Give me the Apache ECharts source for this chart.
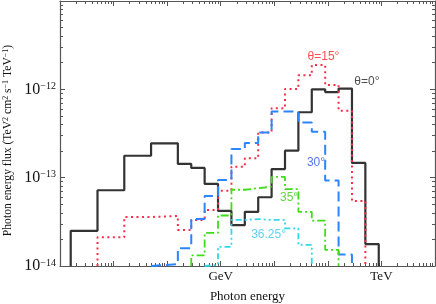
<!DOCTYPE html>
<html><head><meta charset="utf-8">
<script src="https://cdn.jsdelivr.net/npm/echarts@6/dist/echarts.min.js"></script>
<style>html,body{margin:0;padding:0;background:#fff}#c{width:436px;height:304px}</style>
</head><body><div id="c"></div>
<script>
// Bin edges, as log10(E / GeV)
const edgesLog10 = [-2.8,-2.3,-1.8,-1.3,-0.8,-0.55,-0.3,-0.05,0.2,0.45,0.7,0.95,1.2,1.45,1.7,1.95,2.2,2.45,2.7,2.95];

// Flux per bin (TeV^2 cm^-2 s^-1 TeV^-1); each series starts at a given edge index
const theta0Start = 0;
const theta0 = [2.5e-14,7.2e-14,1.77e-13,2.45e-13,1.43e-13,1.29e-13,8.5e-14,4.2e-14,2.9e-14,4.1e-14,6.0e-14,1.25e-13,2.02e-13,5.5e-13,1.0e-12,9.3e-13,1.02e-12,1.47e-13,1.77e-14];
const theta15Start = 1;
const theta15 = [2.11e-14,3.59e-14,3.68e-14,2.56e-14,3.32e-14,4.31e-14,7.12e-14,1.33e-13,1.66e-13,3.24e-13,6.11e-13,1.01e-12,1.44e-12,1.89e-12,1.12e-12,5.74e-13,5.44e-14];
const theta30Start = 3;
const theta30 = [1.05e-14,1.59e-14,3.4e-14,6.2e-14,9.4e-14,2.11e-13,2.47e-13,3.25e-13,5.6e-13,5.6e-13,4.2e-13,3.3e-13,9.3e-14,1.35e-14];
const theta35Start = 5;
const theta35 = [1.32e-14,2.37e-14,3.73e-14,7.3e-14,7.6e-14,7.9e-14,1.02e-13,7.4e-14,4.1e-14,3.26e-14,1.52e-14];
const theta3625Start = 6;
const theta3625 = [1.03e-14,1.65e-14,3.32e-14,3.4e-14,3.32e-14,3.32e-14,2.67e-14,1.73e-14];

// Curve annotations: text, energy (GeV), flux
const annoText = ['θ=15°','θ=0°','30°','35°','36.25°'];
const annoE = [82.8, 535, 60, 18.9, 7.83];
const annoF = [2.33e-12, 1.21e-12, 1.47e-13, 5.89e-14, 2.25e-14];
const annoColor = ['#ff2020','#222222','#2a4ff0','#3ccc10','#3cc4ee'];

// Axis ranges and tick labels
const xMin = 1e-3, xMax = 1e4;
const yMin = 1e-14, yMax = 1e-11;
const xLabelValues = [1, 1000];
const xLabelText = ['GeV', 'TeV'];
const yLabelValues = [1e-14, 1e-13, 1e-12];

const serif = 'Liberation Serif';
const sans = 'Liberation Sans';
const frame = '#555';

function E(i){ return Math.pow(10, edgesLog10[i]); }
function stepData(start, vals){
  const pts = [[E(start), yMin]];
  vals.forEach((v,i)=>pts.push([E(start+i), v]));
  pts.push([E(start+vals.length), vals[vals.length-1]]);
  pts.push([E(start+vals.length), yMin]);
  return pts;
}
function decades(a,b){ const r=[]; for(let d=a; d<=b; d++) r.push(Math.pow(10,d)); return r; }
function minors(a,b){ const r=[]; for(let d=a; d<b; d++) for(let k=2;k<=9;k++) r.push(k*Math.pow(10,d)); return r; }

const xMaj = decades(-3,4), xMin_ = minors(-3,4);
const yMaj = decades(-14,-11), yMin_ = minors(-14,-11);

function axisX(pos, ticks, len, showLine, labels){
  return {
    type:'log', logBase:10, min:xMin, max:xMax, position:pos,
    axisLine:{show:showLine, onZero:false, lineStyle:{color:frame, width:1.2}},
    axisTick:{show:true, inside:true, length:len, customValues:ticks, lineStyle:{color:frame, width:1}},
    axisLabel: labels ? {show:true, customValues:xLabelValues, margin:4,
       formatter:(v)=>xLabelText[xLabelValues.findIndex(t=>Math.abs(Math.log10(t)-Math.log10(v))<1e-6)] || '',
       fontFamily:serif, fontSize:13, color:'#111'} : {show:false},
    splitLine:{show:false}, minorTick:{show:false}
  };
}
function axisY(pos, ticks, len, showLine, labels){
  return {
    type:'log', logBase:10, min:yMin, max:yMax, position:pos,
    axisLine:{show:showLine, onZero:false, lineStyle:{color:frame, width:1.2}},
    axisTick:{show:true, inside:true, length:len, customValues:ticks, lineStyle:{color:frame, width:1}},
    axisLabel: labels ? {show:true, customValues:yLabelValues, margin:4,
       formatter:(v)=>'{b|10}{s|−'+Math.round(-Math.log10(v))+'}',
       rich:{b:{fontFamily:serif, fontSize:16, color:'#111', verticalAlign:'bottom'},
             s:{fontFamily:serif, fontSize:10, color:'#111', verticalAlign:'top'}}} : {show:false},
    splitLine:{show:false}, minorTick:{show:false}
  };
}

const xA0 = axisX('bottom', xMaj, 5, true, true);
xA0.name = 'Photon energy'; xA0.nameLocation='middle'; xA0.nameGap = 24.5;
xA0.nameTextStyle = {fontFamily:serif, fontSize:13, color:'#111'};
const yA0 = axisY('left', yMaj, 5, true, true);
yA0.name = 'Photon energy flux (TeV{s|2} cm{s|2} s{s|−1} TeV{s|−1})';
yA0.nameLocation='middle'; yA0.nameGap = 38; yA0.nameRotate = 90;
yA0.nameTextStyle = {fontFamily:serif, fontSize:11.6, color:'#111', padding:[0,14,0,0],
  rich:{s:{fontFamily:serif, fontSize:8, color:'#111', verticalAlign:'top'}}};

function lineSeries(name, start, vals, color, type, width){
  return {name, type:'line', step:'end', xAxisIndex:0, yAxisIndex:0, showSymbol:false, symbol:'none',
    data: stepData(start, vals), lineStyle:{color, width, type}, silent:true};
}

const chart = echarts.init(document.getElementById('c'), null, {renderer:'canvas'});
chart.setOption({
  animation:false,
  backgroundColor:'#fff',
  grid:{left:60, top:1, width:375, height:265, outerBoundsMode:'none', containLabel:false},
  xAxis:[xA0, axisX('bottom', xMin_, 3, false, false), axisX('top', xMaj, 5, true, false), axisX('top', xMin_, 3, false, false)],
  yAxis:[yA0, axisY('left', yMin_, 3, false, false), axisY('right', yMaj, 5, true, false), axisY('right', yMin_, 3, false, false)],
  series:[
    lineSeries('θ=0°', theta0Start, theta0, '#333333', 'solid', 2.2),
    lineSeries('θ=15°', theta15Start, theta15, '#ff2a4a', [2,3.5], 2),
    lineSeries('30°', theta30Start, theta30, '#2a86ff', [10,5], 2),
    lineSeries('35°', theta35Start, theta35, '#3fdc1a', [8,3,2,3], 1.8),
    lineSeries('36.25°', theta3625Start, theta3625, '#2fd8ea', [6,3,2,3,2,3], 1.8),
    {type:'scatter', xAxisIndex:0, yAxisIndex:0, symbolSize:0, silent:true,
     data: annoText.map((t,i)=>({name:t, value:[annoE[i], annoF[i]],
       label:{color:annoColor[i]}})),
     label:{show:true, position:'inside', formatter:'{b}', fontFamily:sans, fontSize:12}}
  ]
});
</script></body></html>
